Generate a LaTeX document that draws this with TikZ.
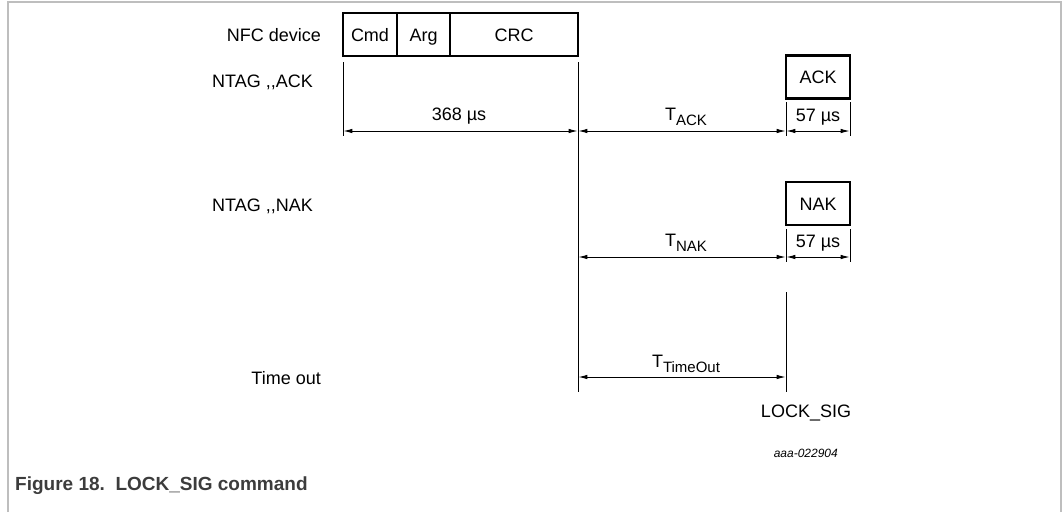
\documentclass[tikz,border=0pt]{standalone}
\usepackage{fontspec}
\setmainfont{Liberation Sans}
\usetikzlibrary{arrows.meta}
\definecolor{framegray}{RGB}{190,190,190}
\definecolor{capgray}{RGB}{60,60,60}
\tikzset{
  lbl/.style={font=\fontsize{18}{20}\selectfont, inner sep=0pt},
  llbl/.style={lbl, anchor=east},
  seg/.style={draw, line width=2.6pt, inner sep=0pt, text height=13pt, text depth=0pt, font=\fontsize{18}{20}\selectfont},
  thinl/.style={line width=1pt},
  dim/.style={line width=1pt, {Latex[length=9pt,width=4.5pt]}-{Latex[length=9pt,width=4.5pt]}, shorten <=0.3pt, shorten >=0.3pt},
}
\newcommand{\sbs}[1]{\raisebox{-0.3em}{\fontsize{15}{17}\selectfont #1}}
\begin{document}
\begin{tikzpicture}[x=1pt,y=-1pt]
\useasboundingbox (0,0) rectangle (1062,512);
% frame
\draw[framegray, line width=1.6pt] (8,512) -- (8,2) -- (1061,2) -- (1061,512);

% NFC device frame
\node[seg, minimum width=54, minimum height=43] (cmd) at (370,34.5) {Cmd};
\node[seg, minimum width=53, minimum height=43] (arg) at (423.5,34.5) {Arg};
\node[seg, minimum width=128, minimum height=43] (crc) at (514,34.5) {CRC};

\node[seg, minimum width=64, minimum height=43] (ack) at (818,77) {ACK};
\node[seg, minimum width=64, minimum height=43] (nak) at (818,203.5) {NAK};

% left labels
\node[llbl] (lnfc) at (321,35) {NFC device};
\node[llbl] (lack) at (313,82) {NTAG ,{},ACK};
\node[llbl] (lnak) at (313,206) {NTAG ,{},NAK};
\node[llbl] (lto) at (321,378) {Time out};

% coordinates
\coordinate (a1) at (343,62);  \coordinate (a2) at (343,136);
\coordinate (b1) at (578,62);  \coordinate (b2) at (578,392);
\coordinate (c1) at (786,102); \coordinate (c2) at (786,136);
\coordinate (d1) at (850,102); \coordinate (d2) at (850,136);
\coordinate (e1) at (786,229); \coordinate (e2) at (786,262);
\coordinate (f1) at (850,229); \coordinate (f2) at (850,262);
\coordinate (g1) at (786,292); \coordinate (g2) at (786,392);

\draw[thinl] (a1) -- (a2);
\draw[thinl] (b1) -- (b2);
\draw[thinl] (c1) -- (c2);
\draw[thinl] (d1) -- (d2);
\draw[thinl] (e1) -- (e2);
\draw[thinl] (f1) -- (f2);
\draw[thinl] (g1) -- (g2);

% dimension arrows
\coordinate (r1a) at (343,131); \coordinate (r1b) at (578,131);
\coordinate (r1c) at (786,131); \coordinate (r1d) at (850,131);
\coordinate (r2b) at (578,257); \coordinate (r2c) at (786,257); \coordinate (r2d) at (850,257);
\coordinate (r3b) at (578,377); \coordinate (r3c) at (786,377);

\draw[dim] (r1a) -- (r1b);
\draw[dim] (r1b) -- (r1c);
\draw[dim] (r1c) -- (r1d);
\draw[dim] (r2b) -- (r2c);
\draw[dim] (r2c) -- (r2d);
\draw[dim] (r3b) -- (r3c);

\node[lbl] (t368) at (459,116) {368 µs};
\node[lbl] (tack) at (686,117) {T\sbs{ACK}};
\node[lbl] (t57a) at (818,117) {57 µs};
\node[lbl] (tnak) at (686,243) {T\sbs{NAK}};
\node[lbl] (t57b) at (818,243) {57 µs};
\node[lbl] (tto) at (686,364) {T\sbs{TimeOut}};
\node[lbl] (lock) at (806,413) {LOCK\_SIG};

\node[inner sep=0pt, anchor=east, font=\fontsize{12}{14}\itshape] (code) at (838,453) {aaa-022904};

\node[inner sep=0pt, anchor=west, text=capgray, font=\fontsize{19}{21}\bfseries] (cap) at (15,486) {Figure 18.\ \ LOCK\_SIG command};
\end{tikzpicture}
\end{document}
